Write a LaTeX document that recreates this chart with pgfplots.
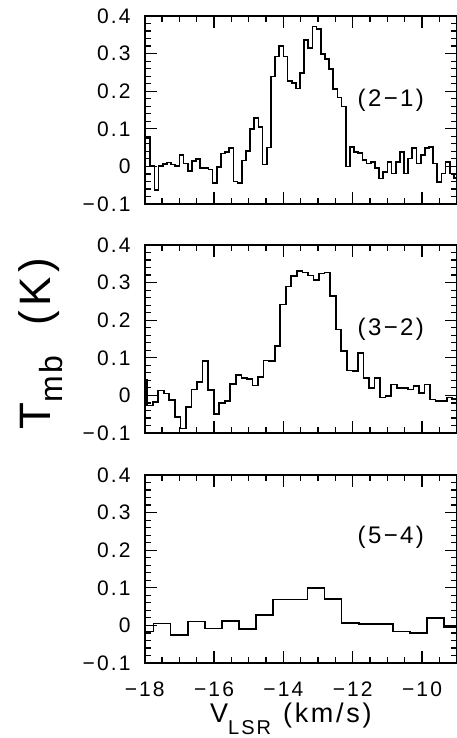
\documentclass[border=0pt]{standalone}
\usepackage{fontspec}
\setmainfont{Liberation Sans}[LetterSpace=10]
\usepackage{pgfplots}
\pgfplotsset{compat=1.18}

\pgfplotstableread{
x y
-18.00 0.076
-17.84 0.001
-17.72 -0.063
-17.60 0.001
-17.48 0.007
-17.36 0.010
-17.24 0.005
-17.12 0.001
-17.00 0.030
-16.88 0.008
-16.76 -0.012
-16.64 0.015
-16.52 0.019
-16.40 -0.004
-16.28 -0.004
-16.16 -0.008
-16.04 -0.045
-15.92 -0.001
-15.80 0.034
-15.68 0.039
-15.56 0.049
-15.44 -0.040
-15.32 -0.045
-15.20 0.016
-15.08 0.041
-14.96 0.099
-14.84 0.129
-14.72 0.105
-14.60 0.005
-14.48 0.050
-14.36 0.239
-14.24 0.292
-14.12 0.321
-14.00 0.292
-13.88 0.228
-13.76 0.221
-13.64 0.207
-13.52 0.248
-13.40 0.337
-13.28 0.314
-13.16 0.372
-13.04 0.365
-12.92 0.299
-12.80 0.285
-12.68 0.259
-12.56 0.205
-12.44 0.183
-12.32 0.159
-12.20 0.000
-12.08 0.052
-11.96 0.039
-11.84 0.035
-11.72 0.017
-11.60 0.008
-11.48 0.011
-11.36 -0.005
-11.24 -0.032
-11.12 -0.014
-11.00 0.012
-10.88 -0.019
-10.76 0.012
-10.64 0.039
-10.52 -0.019
-10.40 0.021
-10.28 0.048
-10.16 0.008
-10.04 0.030
-9.92 0.048
-9.80 0.052
-9.68 0.008
-9.56 -0.041
-9.44 -0.019
-9.32 0.012
-9.20 -0.019
-9.08 -0.030
-9.00 -0.030
}\tabA

\pgfplotstableread{
x y
-18.00 0.042
-17.93 -0.027
-17.77 -0.018
-17.61 0.013
-17.45 0.005
-17.29 -0.013
-17.13 -0.058
-16.97 -0.088
-16.81 -0.030
-16.65 0.016
-16.49 0.036
-16.33 0.091
-16.17 0.014
-16.01 -0.050
-15.85 -0.021
-15.69 -0.015
-15.53 0.031
-15.37 0.054
-15.21 0.047
-15.05 0.043
-14.89 0.026
-14.73 0.049
-14.57 0.093
-14.41 0.091
-14.25 0.131
-14.09 0.242
-13.93 0.290
-13.77 0.317
-13.61 0.330
-13.45 0.327
-13.29 0.319
-13.13 0.306
-12.97 0.324
-12.81 0.327
-12.65 0.264
-12.49 0.175
-12.33 0.118
-12.17 0.066
-12.01 0.065
-11.85 0.113
-11.69 0.047
-11.53 0.019
-11.37 0.047
-11.21 -0.006
-11.05 -0.002
-10.89 0.029
-10.73 0.020
-10.57 0.020
-10.41 0.016
-10.25 0.025
-10.09 0.007
-9.93 0.029
-9.77 -0.011
-9.61 -0.015
-9.45 -0.015
-9.29 -0.006
-9.13 -0.010
-9.00 -0.010
}\tabB

\pgfplotstableread{
x y
-18.00 -0.016
-17.75 0.005
-17.26 -0.025
-16.76 0.010
-16.27 -0.008
-15.77 0.011
-15.28 -0.010
-14.79 0.027
-14.29 0.069
-13.80 0.069
-13.30 0.100
-12.81 0.071
-12.32 0.007
-11.82 0.003
-11.33 0.003
-10.84 -0.016
-10.35 -0.021
-9.85 0.019
-9.36 -0.005
-9.00 -0.005
}\tabC

\pgfplotsset{
  panel/.style={
    width=312pt, height=188pt, scale only axis,
    xmin=-18, xmax=-9, ymin=-0.1, ymax=0.4,
    xtick={-18,-16,-14,-12,-10},
    minor xtick={-17.5,-17,-16.5,-15.5,-15,-14.5,-13.5,-13,-12.5,-11.5,-11,-10.5,-9.5},
    ytick={-0.1,0,0.1,0.2,0.3,0.4},
    minor ytick={-0.08,-0.06,-0.04,-0.02,0.02,0.04,0.06,0.08,0.12,0.14,0.16,0.18,0.22,0.24,0.26,0.28,0.32,0.34,0.36,0.38},
    yticklabels={−0.1,0,0.1,0.2,0.3,0.4},
    tick align=inside, xtick pos=both, ytick pos=both,
    xticklabel pos=lower, yticklabel pos=left,
    major tick length=12pt, minor tick length=6pt,
    every tick/.style={black, line width=1.2pt},
    axis line style={line width=1.6pt},
    tick label style={font=\fontsize{21}{23}\selectfont},
    yticklabel style={anchor=east, inner sep=0pt, xshift=-14pt},
    xticklabel style={anchor=north, inner sep=0pt, yshift=-19pt},
  },
}

\begin{document}
\begin{tikzpicture}
\useasboundingbox (0,0) rectangle (457pt,738pt);
\begin{axis}[panel, at={(144.7pt,722pt)}, anchor=north west, xticklabels={}]
\addplot[const plot, black, line width=1.7pt] table[x=x,y=y] {\tabA};
\node[font=\fontsize{24}{26}\selectfont] at (axis cs:-10.9,0.177) {(2−1)};
\end{axis}
\begin{axis}[panel, at={(144.7pt,493pt)}, anchor=north west, xticklabels={}]
\addplot[const plot, black, line width=1.7pt] table[x=x,y=y] {\tabB};
\node[font=\fontsize{24}{26}\selectfont] at (axis cs:-10.9,0.177) {(3−2)};
\end{axis}
\begin{axis}[panel, at={(144.7pt,263pt)}, anchor=north west,
  xticklabels={−18,−16,−14,−12,−10}]
\addplot[const plot, black, line width=1.7pt] table[x=x,y=y] {\tabC};
\node[font=\fontsize{24}{26}\selectfont] at (axis cs:-10.9,0.233) {(5−4)};
\end{axis}
\node[rotate=90, anchor=base west, inner sep=0pt, font=\fontsize{44}{48}\selectfont]
  at (50pt,308pt) {T\raisebox{-12pt}{\fontsize{32}{34}\selectfont mb}\hspace{30pt}(K)};
\node[anchor=base west, inner sep=0pt, font=\fontsize{27}{30}\selectfont]
  at (210pt,15pt) {V\raisebox{-11pt}{\fontsize{20}{22}\selectfont LSR}\hspace{12pt}(km/s)};
\end{tikzpicture}
\end{document}
